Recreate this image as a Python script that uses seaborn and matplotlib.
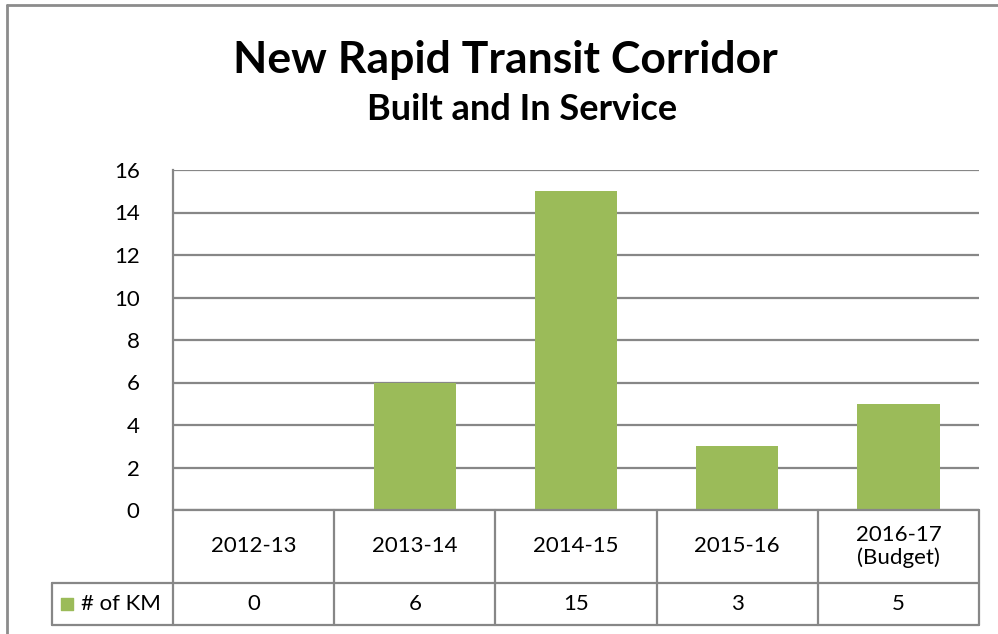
import matplotlib
matplotlib.use('Agg')
import matplotlib.pyplot as plt
import matplotlib.transforms as mtransforms
import pandas as pd
import seaborn as sns

# données : km de corridor de transport rapide mis en service
periods = ['2012-13', '2013-14', '2014-15', '2015-16', '2016-17\n(Budget)']
km_built = [0, 6, 15, 3, 5]
series_name = '# of KM'
y_ticks = [0, 2, 4, 6, 8, 10, 12, 14, 16]

df = pd.DataFrame({'period': periods, 'km': km_built})

sns.set_style('white')
plt.rcParams['font.family'] = ['Lato', 'DejaVu Sans']
plt.rcParams['text.color'] = 'black'
plt.rcParams['ytick.color'] = 'black'

green = '#9bbb59'
grid_gray = '#878787'

W, H = 998, 634
fig = plt.figure(figsize=(W / 100, H / 100), dpi=100)
fig.patch.set_facecolor('white')

# zone du graphe en pixels
left, right, top, bottom = 173, 979, 170, 510
ax = fig.add_axes([left / W, (H - bottom) / H, (right - left) / W, (bottom - top) / H])

sns.barplot(x='period', y='km', data=df, color=green, width=0.51, ax=ax,
            saturation=1, edgecolor='none')
ax.set_xlim(-0.5, len(periods) - 0.5)
ax.set_ylim(0, 16)
ax.set_yticks(y_ticks)
ax.set_yticklabels([str(t) for t in y_ticks], fontsize=16)
ax.tick_params(axis='y', length=0, pad=24)
ax.set_xticks([])
ax.set_xlabel('')
ax.set_ylabel('')
ax.yaxis.grid(True, color=grid_gray, linewidth=1.6)
ax.set_axisbelow(True)
for s in ['top', 'right', 'bottom']:
    ax.spines[s].set_visible(False)
ax.spines['left'].set_color(grid_gray)
ax.spines['left'].set_linewidth(1.6)

# tableau de données sous le graphe
trans = mtransforms.blended_transform_factory(ax.transData, ax.transAxes)
row1 = -(583 - bottom) / (bottom - top)
row2 = -(625 - bottom) / (bottom - top)
leg_left = -1.25
n = len(periods)
line_kw = dict(color=grid_gray, linewidth=1.6, transform=trans, clip_on=False)
ax.plot([-0.5, n - 0.5], [0, 0], **line_kw)
ax.plot([leg_left, n - 0.5], [row1, row1], **line_kw)
ax.plot([leg_left, n - 0.5], [row2, row2], **line_kw)
ax.plot([leg_left, leg_left], [row1, row2], **line_kw)
for i in range(n + 1):
    ax.plot([i - 0.5, i - 0.5], [0, row2], **line_kw)

for i, (p, v) in enumerate(zip(periods, km_built)):
    ax.text(i, row1 / 2, p, ha='center', va='center', fontsize=16,
            transform=trans, linespacing=1.2)
    ax.text(i, (row1 + row2) / 2, str(v), ha='center', va='center', fontsize=16,
            transform=trans)

ax.scatter([leg_left + 0.095], [(row1 + row2) / 2], marker='s', s=75, color=green,
           transform=trans, clip_on=False)
ax.text(leg_left + 0.18, (row1 + row2) / 2, series_name, ha='left', va='center',
        fontsize=16, transform=trans)

# titres
fig.text(505 / W, 1 - 60 / H, 'New Rapid Transit Corridor', ha='center', va='center',
         fontsize=32, fontweight='bold')
fig.text(522 / W, 1 - 110 / H, 'Built and In Service', ha='center', va='center',
         fontsize=26, fontweight='bold')

# cadre gris
fig.add_artist(plt.Line2D([7 / W, 7 / W], [0, 1 - 5 / H], color='#8c8c8c', linewidth=2))
fig.add_artist(plt.Line2D([7 / W, 1], [1 - 5 / H, 1 - 5 / H], color='#8c8c8c', linewidth=2))

fig.savefig('out.png', dpi=100)
